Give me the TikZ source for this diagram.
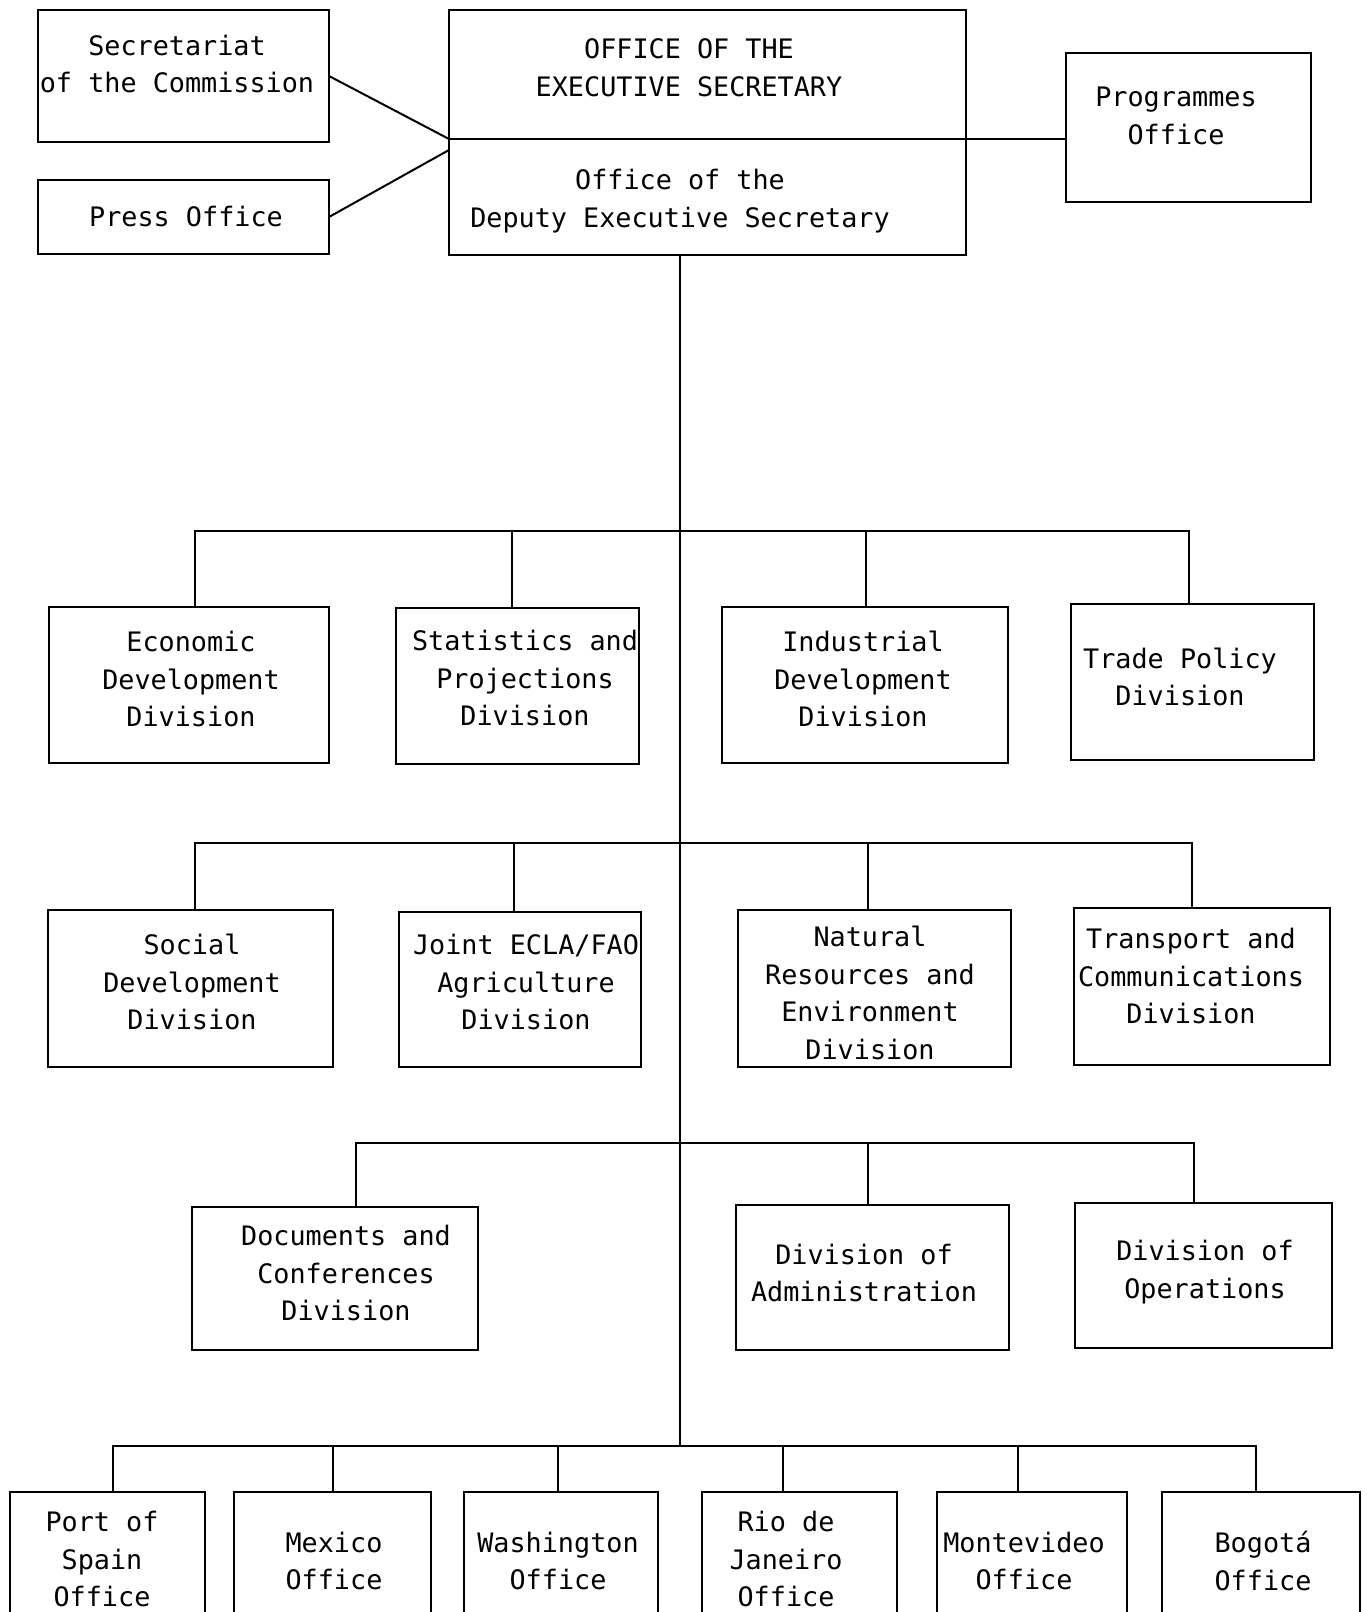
\documentclass[tikz,border=0pt]{standalone}
\usepackage{fontspec}
\setmonofont{DejaVu Sans Mono}
\usetikzlibrary{calc}
\newcommand\orgbox[5]{\node[box, minimum width={(#4-#2)*0.5pt}, minimum height={(#5-#3)*0.5pt}] (#1) at ({(#2+#4)/2},{(#3+#5)/2}) {};}
\begin{document}
\begin{tikzpicture}[x=0.5pt,y=-0.5pt,
  box/.style={draw, line width=1pt, rectangle, inner sep=0pt, outer sep=0pt},
  lbl/.style={font=\ttfamily\fontsize{13.4pt}{18.8pt}\selectfont, align=center, inner sep=0pt},
  link/.style={line width=1pt}]
\useasboundingbox (0,0) rectangle (1366,1612);
\fill[white] (0,0) rectangle (1366,1612);
\clip (0,0) rectangle (1366,1612);

% boxes
\orgbox{sec}{38}{10}{329}{142}
\orgbox{press}{38}{180}{329}{254}
\orgbox{execTop}{449}{10}{966}{139}
\orgbox{execBot}{449}{139}{966}{255}
\orgbox{prog}{1066}{53}{1311}{202}
\orgbox{econ}{49}{607}{329}{763}
\orgbox{stat}{396}{608}{639}{764}
\orgbox{ind}{722}{607}{1008}{763}
\orgbox{trade}{1071}{604}{1314}{760}
\orgbox{soc}{48}{910}{333}{1067}
\orgbox{joint}{399}{912}{641}{1067}
\orgbox{nat}{738}{910}{1011}{1067}
\orgbox{trans}{1074}{908}{1330}{1065}
\orgbox{doc}{192}{1207}{478}{1350}
\orgbox{admin}{736}{1205}{1009}{1350}
\orgbox{ops}{1075}{1203}{1332}{1348}
\orgbox{port}{10}{1492}{205}{1650}
\orgbox{mex}{234}{1492}{431}{1650}
\orgbox{wash}{464}{1492}{658}{1650}
\orgbox{rio}{702}{1492}{897}{1650}
\orgbox{mont}{937}{1492}{1127}{1650}
\orgbox{bog}{1162}{1492}{1360}{1650}

% texts
\node[lbl] (secT) at (177,64) {Secretariat\\of the Commission};
\node[lbl] (pressT) at (186,217) {Press Office};
\node[lbl] (execTopT) at (689,68) {OFFICE OF THE\\EXECUTIVE SECRETARY};
\node[lbl] (execBotT) at (680,201) {Office of the\\Deputy Executive Secretary};
\node[lbl] (progT) at (1176,116) {Programmes\\Office};
\node[lbl] (econT) at (191,679) {Economic\\Development\\Division};
\node[lbl] (statT) at (525,678) {Statistics and\\Projections\\Division};
\node[lbl] (indT) at (863,679) {Industrial\\Development\\Division};
\node[lbl] (tradeT) at (1180,677) {Trade Policy\\Division};
\node[lbl] (socT) at (192,982) {Social\\Development\\Division};
\node[lbl] (jointT) at (526,982) {Joint ECLA/FAO\\Agriculture\\Division};
\node[lbl] (natT) at (870,993) {Natural\\Resources and\\Environment\\Division};
\node[lbl] (transT) at (1191,976) {Transport and\\Communications\\Division};
\node[lbl] (docT) at (346,1273) {Documents and\\Conferences\\Division};
\node[lbl] (adminT) at (864,1273) {Division of\\Administration};
\node[lbl] (opsT) at (1205,1272) {Division of\\Operations};
\node[lbl] (portT) at (102,1559) {Port of\\Spain\\Office};
\node[lbl] (mexT) at (334,1561) {Mexico\\Office};
\node[lbl] (washT) at (558,1561) {Washington\\Office};
\node[lbl] (rioT) at (786,1559) {Rio de\\Janeiro\\Office};
\node[lbl] (montT) at (1024,1561) {Montevideo\\Office};
\node[lbl] (bogT) at (1263,1561) {Bogotá\\Office};

% bus coordinates
\coordinate (bus1) at (680,531);
\coordinate (bus2) at (680,843);
\coordinate (bus3) at (680,1143);
\coordinate (bus4) at (680,1446);

% drop points on box tops
\coordinate (econD) at ($(econ.north)+(6,0)$);
\coordinate (statD) at ($(stat.north)+(-5.5,0)$);
\coordinate (indD) at ($(ind.north)+(1,0)$);
\coordinate (tradeD) at ($(trade.north)+(-3.5,0)$);
\coordinate (socD) at ($(soc.north)+(4.5,0)$);
\coordinate (jointD) at ($(joint.north)+(-6,0)$);
\coordinate (natD) at ($(nat.north)+(-6.5,0)$);
\coordinate (transD) at ($(trans.north)+(-10,0)$);
\coordinate (docD) at ($(doc.north)+(21,0)$);
\coordinate (adminD) at ($(admin.north)+(-4.5,0)$);
\coordinate (opsD) at ($(ops.north)+(-9.5,0)$);
\coordinate (portD) at ($(port.north)+(5.5,0)$);
\coordinate (mexD) at ($(mex.north)+(0,0)$);
\coordinate (washD) at ($(wash.north)+(-3,0)$);
\coordinate (rioD) at ($(rio.north)+(-16.5,0)$);
\coordinate (montD) at ($(mont.north)+(-14,0)$);
\coordinate (bogD) at ($(bog.north)+(-5,0)$);

% top connectors
\draw[link] (sec.east) -- (execTop.south west);
\draw[link] (press.east) -- ($(execBot.north west)+(0,11)$);
\draw[link] (execTop.south east) -- (execTop.south east -| prog.west);

% trunk
\draw[link] (execBot.south -| bus1) -- (bus4);

% row 1
\draw[link] (econD) -- (econD |- bus1) -- (tradeD |- bus1) -- (tradeD);
\draw[link] (statD) -- (statD |- bus1);
\draw[link] (indD) -- (indD |- bus1);

% row 2
\draw[link] (socD) -- (socD |- bus2) -- (transD |- bus2) -- (transD);
\draw[link] (jointD) -- (jointD |- bus2);
\draw[link] (natD) -- (natD |- bus2);

% row 3
\draw[link] (docD) -- (docD |- bus3) -- (opsD |- bus3) -- (opsD);
\draw[link] (adminD) -- (adminD |- bus3);

% row 4
\draw[link] (portD) -- (portD |- bus4) -- (bogD |- bus4) -- (bogD);
\draw[link] (mexD) -- (mexD |- bus4);
\draw[link] (washD) -- (washD |- bus4);
\draw[link] (rioD) -- (rioD |- bus4);
\draw[link] (montD) -- (montD |- bus4);
\end{tikzpicture}
\end{document}
